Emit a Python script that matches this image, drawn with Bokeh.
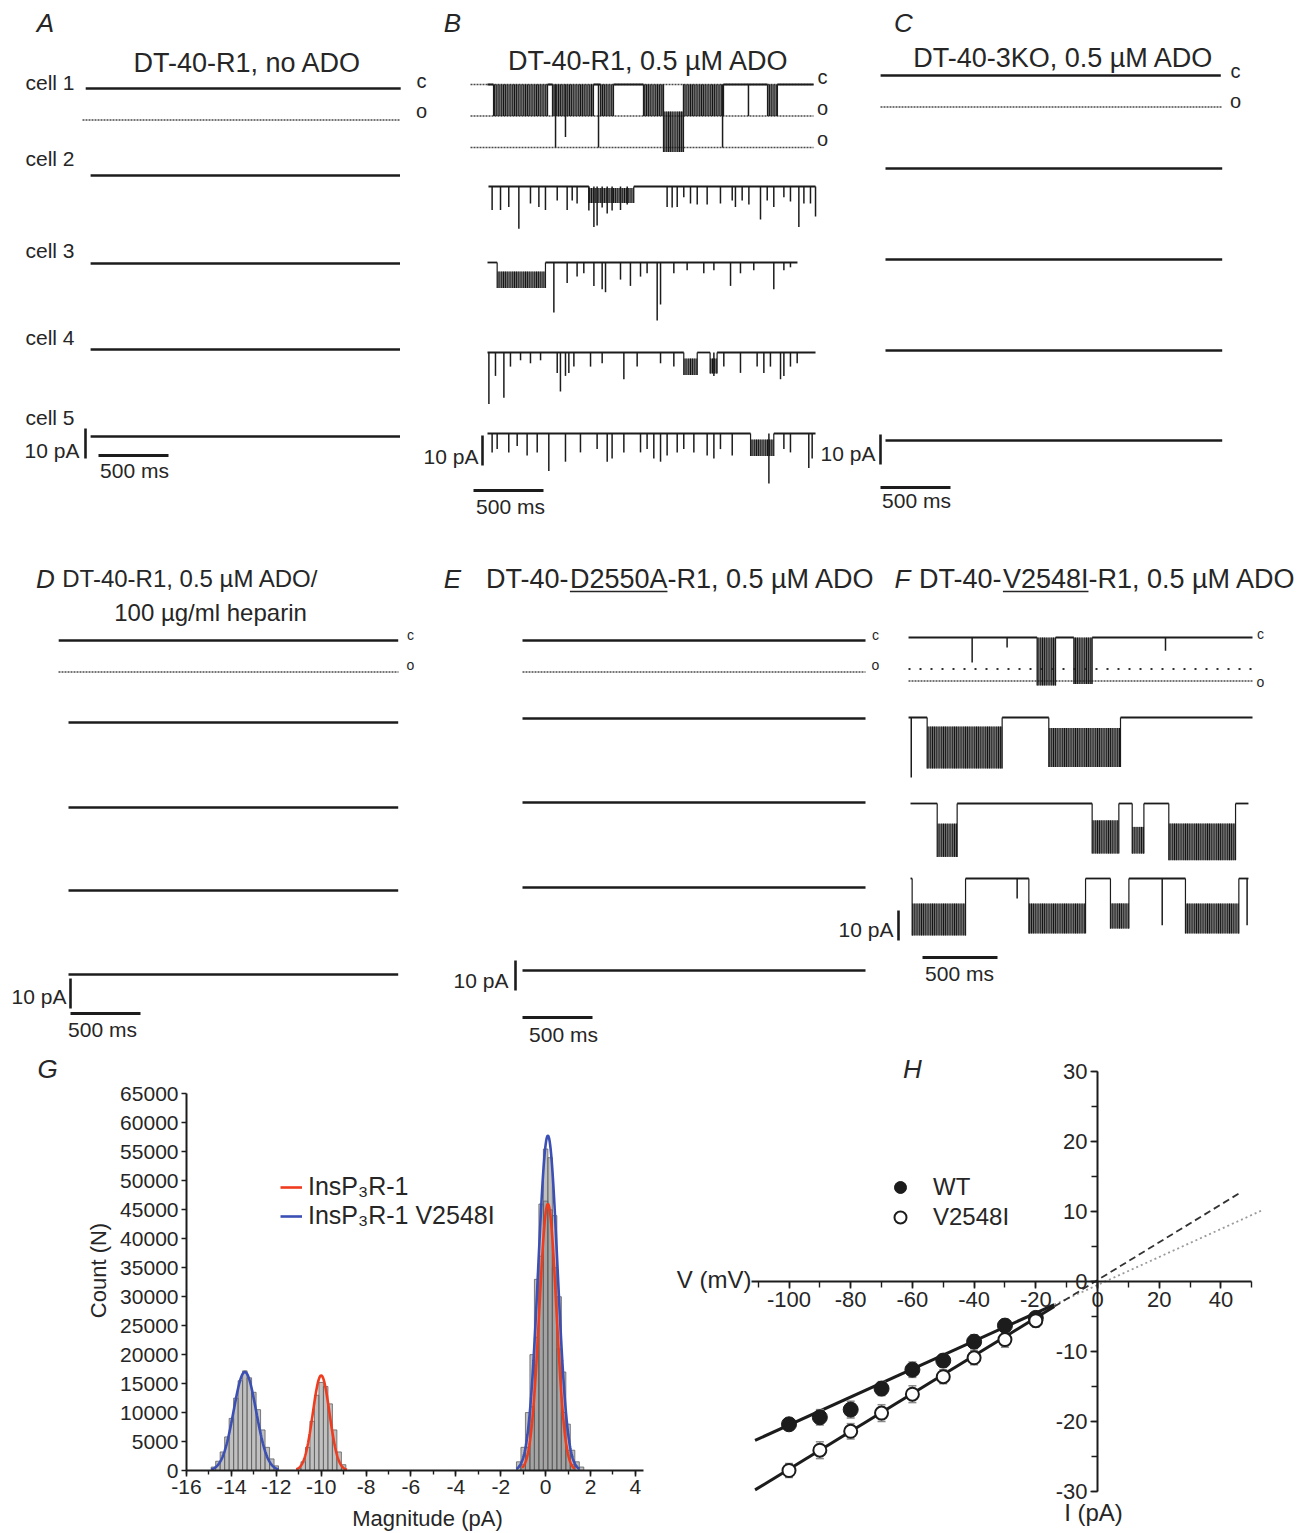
import numpy as np
from math import pi
from bokeh.plotting import figure
from bokeh.models import (Range1d, Label, LinearAxis, SingleIntervalTicker, Legend, LegendItem,
                          PrintfTickFormatter)
from bokeh.layouts import column, row
from bokeh.embed import file_html
from bokeh.resources import INLINE

FONT = "Liberation Sans"
INK = "#1c1c1c"
TXT = "#262626"

# ===================== DATA =====================
SCALE_PA = 10          # vertical scale bar (pA)
SCALE_MS = 500         # horizontal scale bar (ms)
R1_OPEN = 10.5         # InsP3R-1 open level (pA below closed)
R1_OPEN2 = 21.0        # two channels open
V_OPEN = 14.5          # V2548I open level
V_SUB = 10.5           # dotted reference level in F

# quiet records (panels A, C, D, E): start / end times (ms)
A_start = [-20, 15, 15, 15, 15]
A_end = [2230, 2225, 2225, 2225, 2225]
C_start = [-35, 0, 0, 0, 0]
C_end = [2395, 2405, 2405, 2405, 2405]
D_start = [-70, 0, 0, 0, 0]
D_end = [2355, 2355, 2355, 2355, 2355]
E_start = [0, 0, 0, 0, 0]
E_end = [2450, 2450, 2450, 2450, 2450]

# panel B: DT-40-R1, 0.5 uM ADO
B_start = [0, 7, 0, 0, 0]
B_end = [2329, 2343, 2214, 2343, 2343]
B1_burst_t0 = [43, 464, 807, 1114, 1257, 1400, 2000]
B1_burst_t1 = [429, 757, 900, 1257, 1400, 1686, 2071]
B1_burst_hi = [0, 0, 0, 0, 9, 0, 0]
B1_burst_lo = [10.5, 10.5, 10.5, 10.5, 22.5, 10.5, 10.5]
B1_spike_t = [486, 557, 793, 1679, 1864]
B1_spike_d = [21.0, 17.5, 21.0, 21.0, 10.5]

B2_spike_t = [33, 93, 152, 224, 307, 367, 414, 498, 569, 605, 640, 724, 760, 783, 819, 855, 890, 950, 998, 1283,
              1319, 1355, 1402, 1450, 1498, 1569, 1664, 1748, 1771, 1819, 1867, 1950, 1998, 2045, 2117, 2164, 2224,
              2260, 2307, 2343]
B2_spike_d = [7.8, 7.8, 6.8, 14.1, 5.7, 6.8, 7.8, 4.7, 7.8, 4.7, 5.7, 8.0, 13.5, 13.0, 7.0, 9.0, 8.0, 7.8, 6.0, 6.8,
              7.0, 6.8, 3.6, 5.7, 6.0, 6.0, 5.7, 4.7, 6.8, 4.7, 6.0, 11.0, 4.7, 6.8, 3.6, 5.0, 13.5, 5.7, 5.7, 10.0]
B2_burst_t0, B2_burst_t1, B2_burst_hi, B2_burst_lo = [724], [1045], [0.5], [5.5]

B3_spike_t = [474, 569, 640, 688, 760, 819, 843, 950, 1021, 1093, 1140, 1212, 1236, 1331, 1426, 1545, 1617, 1736,
              1807, 1902, 2045, 2117, 2164]
B3_spike_d = [16.7, 6.8, 4.7, 3.6, 7.8, 8.9, 9.9, 5.7, 7.8, 4.7, 3.6, 19.3, 14.0, 3.6, 2.6, 3.6, 2.6, 7.8, 3.6, 2.6,
              8.9, 2.6, 1.6]
B3_burst_t0, B3_burst_t1, B3_burst_hi, B3_burst_lo = [69], [414], [3.0], [8.5]

B4_spike_t = [10, 57, 117, 164, 236, 307, 379, 498, 521, 557, 581, 617, 736, 819, 974, 1069, 1236, 1331, 1617, 1688,
              1807, 1926, 1974, 2021, 2093, 2117, 2164, 2212]
B4_spike_d = [17.2, 7.8, 15.1, 4.7, 2.6, 3.6, 2.6, 6.8, 13.0, 7.8, 6.8, 4.7, 4.7, 3.6, 8.9, 4.7, 3.6, 4.7, 7.8, 4.7,
              6.8, 4.7, 6.8, 4.7, 8.9, 7.8, 4.7, 3.6]
B4_burst_t0, B4_burst_t1, B4_burst_hi, B4_burst_lo = [1402, 1590], [1498, 1640], [2.0, 2.0], [7.5, 7.0]

B5_spike_t = [33, 69, 152, 212, 283, 355, 438, 557, 664, 783, 855, 890, 974, 1093, 1140, 1188, 1236, 1283, 1355, 1402,
              1474, 1569, 1617, 1664, 1748, 2010, 2117, 2164, 2295, 2319]
B5_spike_d = [6.3, 5.2, 6.3, 4.2, 7.3, 6.3, 12.5, 9.4, 6.3, 5.2, 9.4, 8.3, 6.3, 6.3, 5.2, 8.3, 9.4, 7.3, 6.3, 5.2,
              6.3, 7.3, 8.3, 5.2, 7.3, 16.7, 5.2, 6.3, 11.5, 8.3]
B5_burst_t0, B5_burst_t1, B5_burst_hi, B5_burst_lo = [1879], [2045], [2.0], [7.5]

# panel F: DT-40-V2548I-R1, 0.5 uM ADO
F_start = [-13, -13, 0, 0]
F_end = [2280, 2280, 2253, 2253]
F1_spike_t, F1_spike_d = [411, 644, 1700], [8.3, 3.3, 4.4]
F1_burst_t0, F1_burst_t1, F1_burst_hi, F1_burst_lo = [844, 1089], [967, 1211], [0, 0], [16.0, 15.5]
F2_spike_t, F2_spike_d = [5], [20.0]
F2_burst_t0, F2_burst_t1, F2_burst_hi, F2_burst_lo = [111, 922], [611, 1400], [3.0, 3.5], [17.0, 16.5]
F3_burst_t0 = [178, 1211, 1478, 1722]
F3_burst_t1 = [311, 1389, 1556, 2167]
F3_burst_hi = [6.7, 5.6, 7.8, 6.7]
F3_burst_lo = [17.8, 16.7, 16.7, 18.9]
F4_spike_t, F4_spike_d = [711, 1678, 2244], [6.7, 15.6, 15.6]
F4_burst_t0 = [11, 789, 1333, 1833]
F4_burst_t1 = [367, 1167, 1456, 2189]
F4_burst_hi = [8.3, 8.3, 8.3, 8.3]
F4_burst_lo = [19.0, 18.3, 16.7, 18.3]

# panel G: all-points amplitude histograms (0.2 pA bins)
G_BIN = 0.2
G_v_x = [-14.8, -14.6, -14.4, -14.2, -14.0, -13.8, -13.6, -13.4, -13.2, -13.0, -12.8, -12.6, -12.4, -12.2, -12.0,
         -1.2, -1.0, -0.8, -0.6, -0.4, -0.2, 0.0, 0.2, 0.4, 0.6, 0.8, 1.0, 1.2, 1.4, 1.6]
G_v_n = [600, 1600, 3200, 5800, 9000, 12500, 15500, 17200, 16000, 13500, 10500, 7000, 4000, 2000, 800,
         1500, 4000, 10000, 20000, 33000, 46000, 55500, 54000, 44000, 30000, 17000, 8000, 3500, 1500, 600]
G_r_x = [-11.0, -10.8, -10.6, -10.4, -10.2, -10.0, -9.8, -9.6, -9.4, -9.2, -9.0,
         -1.0, -0.8, -0.6, -0.4, -0.2, 0.0, 0.2, 0.4, 0.6, 0.8, 1.0, 1.2]
G_r_n = [400, 1500, 4000, 8500, 13000, 15200, 14500, 11500, 7000, 3200, 1000,
         1000, 4000, 11000, 23000, 37000, 46500, 45000, 35000, 21000, 10000, 3500, 1000]
# Gaussian fits: mean, sd, amplitude, drawn span
G_fit_series = ["V2548I", "R1", "V2548I", "R1"]
G_fit_mu = [-13.4, -10.0, 0.1, 0.1]
G_fit_sd = [0.50, 0.37, 0.43, 0.38]
G_fit_amp = [17000, 16400, 57800, 46000]
G_fit_lo = [-14.9, -11.1, -1.3, -1.05]
G_fit_hi = [-11.9, -8.85, 1.5, 1.3]

# panel H: single-channel I-V
H_V = [-100, -90, -80, -70, -60, -50, -40, -30, -20]
H_WT = [-20.4, -19.4, -18.3, -15.3, -12.6, -11.3, -8.6, -6.3, -5.2]
H_WT_err = [0.8, 1.1, 1.2, 1.0, 1.1, 0.9, 1.0, 0.9, 0.8]
H_MUT = [-27.0, -24.1, -21.4, -18.8, -16.1, -13.6, -10.9, -8.3, -5.6]
H_MUT_err = [1.0, 1.2, 1.1, 1.2, 1.2, 1.0, 1.0, 1.1, 0.9]
H_fit_slope = [0.20, 0.27]      # WT, V2548I (pA/mV)
H_fit_icpt = [-0.5, 0.2]
H_fit_span = [-111, -14]
H_ext_end = [53.6, 46.4]


# ===================== HELPERS =====================
def row_fig(h):
    p = figure(width=1312, height=h, x_range=Range1d(0, 1312), y_range=Range1d(0, h),
               x_axis_location=None, y_axis_location=None, toolbar_location=None,
               output_backend="svg", min_border=0, outline_line_color=None,
               background_fill_color="white", border_fill_color="white")
    p.grid.visible = False
    return p


class Panel:
    """One trace panel living in a row-wide figure, with its own ms / pA ranges."""

    def __init__(self, p, name, y0, h, t0px, base_py, kms, kpa=3.0):
        self.p = p
        self.kms, self.kpa, self.t0px, self.base = kms, kpa, t0px, base_py
        xr = Range1d((0 - t0px) / kms, (1312 - t0px) / kms)
        yr = Range1d((base_py - (y0 + h)) / kpa, (base_py - y0) / kpa)
        ex = dict(p.extra_x_ranges); ex[name] = xr; p.extra_x_ranges = ex
        ey = dict(p.extra_y_ranges); ey[name] = yr; p.extra_y_ranges = ey
        self.kw = dict(x_range_name=name, y_range_name=name)

    def X(self, px):
        return (px - self.t0px) / self.kms

    def Y(self, py):
        return (self.base - py) / self.kpa

    def seg(self, x0, y0, x1, y1, **k):
        self.p.segment(x0=x0, y0=y0, x1=x1, y1=y1, **self.kw, **k)

    def txt(self, px, py, s, size=21, align="center", baseline="middle", style="normal"):
        self.p.add_layout(Label(x=self.X(px), y=self.Y(py), text=s, text_font=FONT,
                                text_font_size=f"{size}px", text_align=align,
                                text_baseline=baseline, text_font_style=style,
                                text_color=TXT, **self.kw))

    def hline(self, px0, px1, level, dash="2 1", width=1.7, color="#4a4a4a"):
        self.seg([self.X(px0)], [level], [self.X(px1)], [level],
                 line_dash=dash, line_width=width, line_color=color)

    def scalebars(self, vx, vy_bottom, hx, hy):
        self.seg([self.X(vx)], [self.Y(vy_bottom)], [self.X(vx)], [self.Y(vy_bottom) + SCALE_PA],
                 line_color=INK, line_width=2.6)
        self.seg([self.X(hx)], [self.Y(hy)], [self.X(hx) + SCALE_MS], [self.Y(hy)],
                 line_color=INK, line_width=3.2)

    def record(self, off, t_start, t_end, spike_t=(), spike_d=(),
               b_t0=(), b_t1=(), b_hi=(), b_lo=(), lw=2.0):
        segs = []
        cur = t_start
        for a, b in sorted(zip(b_t0, b_t1)):
            if a > cur:
                segs.append((cur, a))
            cur = max(cur, b)
        if cur < t_end:
            segs.append((cur, t_end))
        self.seg([s[0] for s in segs], [off] * len(segs), [s[1] for s in segs], [off] * len(segs),
                 line_color=INK, line_width=lw)
        if len(b_t0):
            self.p.quad(left=list(b_t0), right=list(b_t1), top=[off - v for v in b_hi],
                        bottom=[off - v for v in b_lo], fill_color="#2e2e2e", fill_alpha=0.7,
                        hatch_pattern="vertical_line", hatch_color="#080808", hatch_scale=2.2,
                        hatch_weight=1.2, line_color=None, **self.kw)
            xs = list(b_t0) + list(b_t1)
            lo = list(b_lo) + list(b_lo)
            self.seg(xs, [off] * len(xs), xs, [off - v for v in lo], line_color=INK, line_width=1.2)
        if len(spike_t):
            self.seg(list(spike_t), [off] * len(spike_t), list(spike_t), [off - v for v in spike_d],
                     line_color=INK, line_width=1.5)

    def underlined_title(self, cx, cy, pre, mid, post, size):
        total = (EM[pre] + EM[mid] + EM[post]) * size
        sx = cx - total / 2
        m0 = sx + EM[pre] * size
        m1 = m0 + EM[mid] * size
        self.txt(sx, cy, pre, size, "left")
        self.txt(m0, cy, mid, size, "left")
        self.txt(m1, cy, post, size, "left")
        self.seg([self.X(m0)], [self.Y(cy + 13)], [self.X(m1)], [self.Y(cy + 13)],
                 line_color=TXT, line_width=1.6)


MU = "\u00b5"
EM = {"DT-40-": 3.111, "D2550A": 3.613, "V2548I": 3.169, f"-R1, 0.5 {MU}M ADO": 7.69}
TS = 27  # title font size

# ===================== ROW 1: A, B, C =====================
row1 = row_fig(520)

A = Panel(row1, "A", 0, 520, 88, 88, 0.14)
offs = [A.Y(r) for r in [88, 175, 263, 349, 436]]
A.hline(82, 400, offs[0] - R1_OPEN)
for i in range(5):
    A.record(offs[i], A_start[i], A_end[i], lw=2.3)
A.scalebars(85, 458, 98, 455)
A.txt(45, 22, "A", 26, style="italic")
A.txt(247, 62, "DT-40-R1, no ADO", TS)
for lab, yy in zip(["cell 1", "cell 2", "cell 3", "cell 4", "cell 5"], [82, 158, 250, 337, 417]):
    A.txt(25, yy, lab, 21, "left")
A.txt(421, 80, "c", 20)
A.txt(421, 110, "o", 20)
A.txt(79, 450, "10 pA", 21, "right")
A.txt(134, 470, "500 ms", 21)

B = Panel(row1, "B", 0, 520, 487, 84, 0.14)
offs = [B.Y(r) for r in [84, 186, 262, 352, 433]]
for lev in [0, R1_OPEN, R1_OPEN2]:
    B.hline(470, 813, offs[0] - lev)
B.record(offs[0], B_start[0], B_end[0], B1_spike_t, B1_spike_d,
         B1_burst_t0, B1_burst_t1, B1_burst_hi, B1_burst_lo, lw=1.8)
B.record(offs[1], B_start[1], B_end[1], B2_spike_t, B2_spike_d,
         B2_burst_t0, B2_burst_t1, B2_burst_hi, B2_burst_lo, lw=1.8)
B.record(offs[2], B_start[2], B_end[2], B3_spike_t, B3_spike_d,
         B3_burst_t0, B3_burst_t1, B3_burst_hi, B3_burst_lo, lw=1.8)
B.record(offs[3], B_start[3], B_end[3], B4_spike_t, B4_spike_d,
         B4_burst_t0, B4_burst_t1, B4_burst_hi, B4_burst_lo, lw=1.8)
B.record(offs[4], B_start[4], B_end[4], B5_spike_t, B5_spike_d,
         B5_burst_t0, B5_burst_t1, B5_burst_hi, B5_burst_lo, lw=1.8)
B.scalebars(482, 465, 473, 490)
B.txt(452, 22, "B", 26, style="italic")
B.txt(648, 60, f"DT-40-R1, 0.5 {MU}M ADO", TS)
B.txt(822, 76, "c", 20)
B.txt(822, 107, "o", 20)
B.txt(822, 138, "o", 20)
B.txt(478, 456, "10 pA", 21, "right")
B.txt(510, 506, "500 ms", 21)

C = Panel(row1, "C", 0, 520, 885, 75, 0.14)
offs = [C.Y(r) for r in [75, 168, 259, 350, 440]]
C.hline(880, 1222, offs[0] - R1_OPEN)
for i in range(5):
    C.record(offs[i], C_start[i], C_end[i], lw=2.3)
C.scalebars(880, 464, 880, 487)
C.txt(903, 22, "C", 26, style="italic")
C.txt(1063, 57, f"DT-40-3KO, 0.5 {MU}M ADO", TS)
C.txt(1235, 70, "c", 20)
C.txt(1235, 100, "o", 20)
C.txt(875, 453, "10 pA", 21, "right")
C.txt(916, 500, "500 ms", 21)

# ===================== ROW 2: D, E, F =====================
row2 = row_fig(530)

D = Panel(row2, "D", 520, 530, 68, 640, 0.14)
offs = [D.Y(r) for r in [640, 722, 807, 890, 974]]
D.hline(58, 398, offs[0] - R1_OPEN)
for i in range(5):
    D.record(offs[i], D_start[i], D_end[i], lw=2.3)
D.scalebars(70, 1008, 70, 1013)
D.txt(45, 578, "D", 26, style="italic")
D.txt(190, 578, f"DT-40-R1, 0.5 {MU}M ADO/", 24)
D.txt(210, 612, f"100 {MU}g/ml heparin", 24)
D.txt(410, 634, "c", 14)
D.txt(410, 664, "o", 14)
D.txt(66, 996, "10 pA", 21, "right")
D.txt(102, 1029, "500 ms", 21)

E = Panel(row2, "E", 520, 530, 522, 640, 0.14)
offs = [E.Y(r) for r in [640, 718, 802, 887, 970]]
E.hline(522, 865, offs[0] - R1_OPEN)
for i in range(5):
    E.record(offs[i], E_start[i], E_end[i], lw=2.3)
E.scalebars(515, 990, 522, 1017)
E.txt(452, 578, "E", 26, style="italic")
E.underlined_title(680, 578, "DT-40-", "D2550A", f"-R1, 0.5 {MU}M ADO", TS)
E.txt(875, 634, "c", 14)
E.txt(875, 664, "o", 14)
E.txt(508, 980, "10 pA", 21, "right")
E.txt(563, 1034, "500 ms", 21)

F = Panel(row2, "F", 520, 530, 910, 637, 0.15)
offs = [F.Y(r) for r in [637, 717, 803, 878]]
F.hline(908, 1252, offs[0] - V_SUB, dash="2 9", width=2.0, color="#333")
F.hline(908, 1252, offs[0] - V_OPEN)
F.record(offs[0], F_start[0], F_end[0], F1_spike_t, F1_spike_d,
         F1_burst_t0, F1_burst_t1, F1_burst_hi, F1_burst_lo, lw=1.8)
F.record(offs[1], F_start[1], F_end[1], F2_spike_t, F2_spike_d,
         F2_burst_t0, F2_burst_t1, F2_burst_hi, F2_burst_lo, lw=2.2)
F.record(offs[2], F_start[2], F_end[2], (), (),
         F3_burst_t0, F3_burst_t1, F3_burst_hi, F3_burst_lo, lw=1.8)
F.record(offs[3], F_start[3], F_end[3], F4_spike_t, F4_spike_d,
         F4_burst_t0, F4_burst_t1, F4_burst_hi, F4_burst_lo, lw=1.8)
F.scalebars(898, 940, 922, 957)
F.txt(902, 578, "F", 26, style="italic")
F.underlined_title(1107, 578, "DT-40-", "V2548I", f"-R1, 0.5 {MU}M ADO", TS)
F.txt(1260, 633, "c", 14)
F.txt(1260, 681, "o", 14)
F.txt(893, 929, "10 pA", 21, "right")
F.txt(959, 973, "500 ms", 21)


def style_axis(ax, tick_out, minor_out, size):
    ax.axis_line_width = 2
    ax.axis_line_color = INK
    ax.major_tick_line_width = 1.6
    ax.major_tick_line_color = INK
    ax.minor_tick_line_color = INK
    ax.minor_tick_line_width = 1.4
    ax.major_tick_out = tick_out
    ax.major_tick_in = 0
    ax.minor_tick_out = minor_out
    ax.minor_tick_in = 0
    ax.major_label_text_font = FONT
    ax.major_label_text_font_size = size
    ax.major_label_text_color = TXT
    ax.major_label_standoff = 3
    ax.formatter = PrintfTickFormatter(format="%d")


# ===================== PANEL G =====================
GKX, GKY = 22.446, 0.0057927           # px per pA, px per count
gX = lambda px: -16 + (px - 186) / GKX
gY = lambda py: (1470 - py) / GKY
pG = figure(width=660, height=483, x_range=Range1d(gX(0), gX(660)), y_range=Range1d(gY(1533), gY(1050)),
            x_axis_location=None, y_axis_location=None, toolbar_location=None,
            output_backend="svg", min_border=0, outline_line_color=None,
            background_fill_color="white", border_fill_color="white")
pG.grid.visible = False
gxa = LinearAxis(fixed_location=0, bounds=(-16, gX(643)),
                 ticker=SingleIntervalTicker(interval=2, num_minor_ticks=2))
gya = LinearAxis(fixed_location=-16, bounds=(0, gY(1093)),
                 ticker=SingleIntervalTicker(interval=5000, num_minor_ticks=0))
style_axis(gxa, 6, 4, "21px")
style_axis(gya, 5, 0, "21px")
gya.minor_tick_line_color = None
pG.add_layout(gxa, "below")
pG.add_layout(gya, "left")
pG.vbar(x=G_v_x, top=G_v_n, width=G_BIN, fill_color="#8c8c8c", fill_alpha=0.55,
        line_color="#5e5e5e", line_width=0.8)
pG.vbar(x=G_r_x, top=G_r_n, width=G_BIN, fill_color="#8c8c8c", fill_alpha=0.55,
        line_color="#5e5e5e", line_width=0.8)
fit_col = {"V2548I": "#3b4fb4", "R1": "#f03c1e"}
fit_r = {}
for ser, mu, sd, amp, lo, hi in zip(G_fit_series, G_fit_mu, G_fit_sd, G_fit_amp, G_fit_lo, G_fit_hi):
    xs = np.linspace(lo, hi, 160)
    ys = amp * np.exp(-0.5 * ((xs - mu) / sd) ** 2)
    r = pG.line(xs, ys, line_color=fit_col[ser], line_width=2.6)
    fit_r.setdefault(ser, r)
legG = Legend(items=[LegendItem(label="InsP\u2083R-1", renderers=[fit_r["R1"]]),
                     LegendItem(label="InsP\u2083R-1 V2548I", renderers=[fit_r["V2548I"]])],
              location=(280, 303), border_line_color=None, background_fill_alpha=0,
              label_text_font=FONT, label_text_font_size="25px", label_text_color=TXT,
              glyph_width=22, glyph_height=26, label_standoff=6, padding=0, margin=0, spacing=0)
pG.add_layout(legG)
for s, px, py, size, st, ang in [("G", 47, 1068, "26px", "italic", 0),
                                 ("Magnitude (pA)", 427, 1518, "22px", "normal", 0),
                                 ("Count (N)", 98, 1270, "22px", "normal", pi / 2)]:
    pG.add_layout(Label(x=gX(px), y=gY(py), text=s, text_font=FONT, text_font_size=size,
                        text_font_style=st, text_align="center", text_baseline="middle",
                        angle=ang, text_color=TXT))

# ===================== PANEL H =====================
hX = lambda px: (px - 1097) / 3.085
hY = lambda py: (1281 - py) / 7.0
pH = figure(width=652, height=483, x_range=Range1d(hX(660), hX(1312)), y_range=Range1d(hY(1533), hY(1050)),
            x_axis_location=None, y_axis_location=None, toolbar_location=None,
            output_backend="svg", min_border=0, outline_line_color=None,
            background_fill_color="white", border_fill_color="white")
pH.grid.visible = False
xa = LinearAxis(fixed_location=0, bounds=(-112, 50),
                ticker=SingleIntervalTicker(interval=20, num_minor_ticks=2))
ya = LinearAxis(fixed_location=0, bounds=(-30, 30),
                ticker=SingleIntervalTicker(interval=10, num_minor_ticks=2))
style_axis(xa, 7, 6, "22px")
style_axis(ya, 7, 6, "22px")
pH.add_layout(xa, "below")
pH.add_layout(ya, "left")

for slope, icpt, ext, dash, col in zip(H_fit_slope, H_fit_icpt, H_ext_end, ["2 3", "7 4"], ["#9a9a9a", "#333333"]):
    v0, v1 = H_fit_span
    pH.line([v0, v1], [slope * v0 + icpt, slope * v1 + icpt], line_color=INK, line_width=3)
    pH.line([v1, ext], [slope * v1 + icpt, slope * ext + icpt], line_color=col, line_width=1.8, line_dash=dash)

for ys, es in [(H_WT, H_WT_err), (H_MUT, H_MUT_err)]:
    up = [a + b for a, b in zip(ys, es)]
    dn = [a - b for a, b in zip(ys, es)]
    pH.segment(x0=H_V, y0=dn, x1=H_V, y1=up, line_color="#8a8a8a", line_width=1.5)
    pH.scatter(x=H_V + H_V, y=up + dn, marker="dash", size=8, line_color="#8a8a8a", line_width=1.5)

r_wt = pH.scatter(x=H_V, y=H_WT, marker="circle", size=15, fill_color=INK, line_color=INK)
r_mut = pH.scatter(x=H_V, y=H_MUT, marker="circle", size=13, fill_color="white", line_color=INK, line_width=2)
legH = Legend(items=[LegendItem(label="WT", renderers=[r_wt]), LegendItem(label="V2548I", renderers=[r_mut])],
              location=(225, 301), border_line_color=None, background_fill_alpha=0,
              label_text_font=FONT, label_text_font_size="24px", label_text_color=TXT,
              glyph_width=30, glyph_height=30, label_standoff=18, padding=0, margin=0, spacing=0)
pH.add_layout(legH)
for s, px, py, al, st, size in [("H", 912, 1068, "center", "italic", "26px"),
                                ("V (mV)", 751, 1279, "right", "normal", "24px"),
                                ("I (pA)", 1093, 1512, "center", "normal", "24px")]:
    pH.add_layout(Label(x=hX(px), y=hY(py), text=s, text_font=FONT, text_font_size=size,
                        text_font_style=st, text_align=al, text_baseline="middle", text_color=TXT))

layout = column(row1, row2, row(pG, pH))
open("out.html", "w").write(file_html(layout, INLINE))
